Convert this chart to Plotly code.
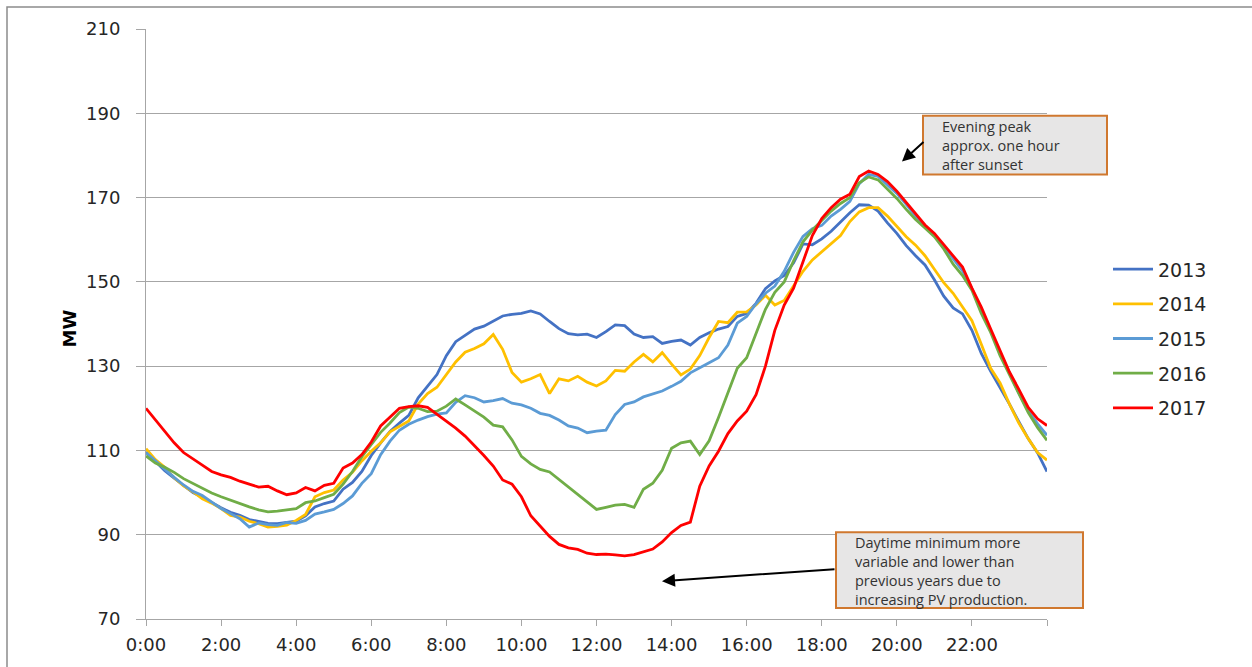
import plotly.graph_objects as go

# Time of day in hours, 15-minute steps from 0:00 to 24:00
hours = [i * 0.25 for i in range(97)]

load_2013 = [
    109.6, 107.4, 105.2, 103.4, 101.6, 100.0, 98.9, 97.6, 96.4, 95.3, 94.6, 93.6,
    93.1, 92.7, 92.6, 92.9, 93.2, 94.5, 96.6, 97.4, 98.0, 100.8, 102.4, 105.0,
    108.8, 111.8, 114.5, 116.5, 118.3, 122.5, 125.2, 128.0, 132.5, 135.8, 137.3, 138.8,
    139.5, 140.8, 141.9, 142.3, 142.5, 143.1, 142.4, 140.6, 138.9, 137.7, 137.4, 137.6,
    136.8, 138.2, 139.8, 139.6, 137.6, 136.8, 137.0, 135.4, 135.9, 136.2, 135.0, 136.8,
    137.9, 138.8, 139.4, 141.8, 142.5, 144.9, 148.4, 150.2, 151.5, 154.5, 159.0, 158.8,
    160.2, 162.0, 164.2, 166.4, 168.3, 168.2, 166.8, 164.0, 161.5, 158.6, 156.2, 154.0,
    150.5, 146.6, 143.8, 142.4, 138.5, 133.0, 128.8, 125.0, 121.0, 116.8, 112.8, 109.4,
    105.0,
]

load_2014 = [
    110.4, 107.8, 106.0, 103.5, 101.6, 100.2, 98.5, 97.5, 96.2, 94.6, 94.2, 93.2,
    92.6, 91.8, 92.0, 92.3, 93.4, 94.8, 99.0, 100.0, 100.6, 103.0, 104.8, 107.5,
    109.8, 111.8, 114.4, 115.8, 117.0, 121.0, 123.5, 125.0, 128.0, 131.0, 133.3, 134.2,
    135.3, 137.5, 134.0, 128.5, 126.2, 127.0, 128.0, 123.5, 127.0, 126.5, 127.6, 126.2,
    125.3, 126.5, 129.0, 128.8, 131.0, 132.8, 131.0, 133.2, 130.5, 127.9, 129.3, 132.5,
    136.8, 140.6, 140.3, 142.8, 142.9, 144.5, 146.8, 144.5, 145.6, 149.0, 152.5, 155.2,
    157.2, 159.0, 161.0, 164.3, 166.6, 167.6, 167.6, 165.6, 163.2, 160.7, 158.7, 156.2,
    153.0, 149.8, 147.3, 144.0, 140.8, 135.2, 129.5, 126.0, 121.0, 116.5, 112.8, 109.5,
    107.7,
]

load_2015 = [
    109.5, 107.5, 105.5, 103.6, 101.8, 100.3, 99.3, 97.8, 96.2, 95.0, 93.8, 91.8,
    92.8, 92.4, 92.2, 92.9, 92.7, 93.4, 94.9, 95.4, 96.0, 97.4, 99.2, 102.2,
    104.5, 109.0, 112.2, 114.8, 116.2, 117.2, 118.0, 118.6, 118.9, 121.4, 123.0, 122.5,
    121.5, 121.8, 122.3, 121.2, 120.8, 120.0, 118.8, 118.3, 117.2, 115.8, 115.3, 114.2,
    114.6, 114.8, 118.5, 120.9, 121.5, 122.7, 123.4, 124.1, 125.2, 126.4, 128.4, 129.7,
    130.8, 132.0, 135.0, 140.2, 141.8, 144.8, 147.3, 149.0, 152.5, 157.0, 160.8, 162.6,
    163.4, 165.6, 167.2, 169.1, 173.3, 175.5, 175.0, 173.0, 171.0, 168.4, 165.6, 163.2,
    161.2, 158.4, 155.4, 152.6, 148.4, 143.6, 138.4, 133.2, 128.3, 123.6, 119.4, 116.3,
    113.6,
]

load_2016 = [
    108.7, 107.0, 106.0, 104.8, 103.3, 102.2, 101.0, 99.9, 99.0, 98.2, 97.3, 96.6,
    95.9, 95.4, 95.6, 95.9, 96.2, 97.6, 98.0, 98.8, 99.6, 102.0, 105.0, 108.5,
    111.5, 114.3, 116.5, 119.0, 120.3, 120.0, 119.2, 119.3, 120.5, 122.2, 120.8, 119.3,
    117.9, 116.0, 115.6, 112.5, 108.6, 106.8, 105.5, 104.9, 103.1, 101.4, 99.4, 97.8,
    96.0, 96.5, 97.0, 97.2, 96.5, 100.8, 102.2, 105.3, 110.5, 111.8, 112.2, 109.0,
    112.3, 117.8, 123.5, 129.5, 132.0, 138.0, 143.5, 147.5, 150.0, 155.0, 159.5, 162.3,
    164.5, 166.8, 168.6, 170.0, 173.5, 174.9, 174.2, 172.0, 169.8, 167.2, 164.8, 162.8,
    160.7, 157.8, 154.2, 151.5, 148.0, 142.5, 138.0, 132.5, 127.8, 123.5, 119.0, 115.4,
    112.4,
]

load_2017 = [
    120.0, 117.2, 114.5, 111.8, 109.5, 107.9, 106.5, 105.0, 104.2, 103.6, 102.7, 102.0,
    101.3, 101.5, 100.4, 99.5, 99.9, 101.2, 100.4, 101.7, 102.2, 105.8, 107.0, 109.0,
    112.0, 115.8, 118.0, 120.0, 120.4, 120.6, 120.2, 118.6, 116.8, 115.3, 113.4, 111.2,
    108.8, 106.3, 103.0, 102.0, 99.0, 94.5, 92.0, 89.6, 87.7, 86.9, 86.5, 85.6,
    85.3, 85.4, 85.2, 85.0, 85.3, 85.9, 86.6, 88.3, 90.5, 92.2, 93.0, 101.5,
    106.3, 109.8, 114.0, 117.0, 119.3, 123.2, 130.0, 138.5, 144.5, 148.5, 155.0, 161.0,
    165.0, 167.6, 169.6, 170.8, 175.0, 176.3, 175.5, 173.8, 171.5, 168.8, 166.0, 163.5,
    161.5, 158.8, 156.2, 153.5, 148.5, 144.0, 138.8, 133.7, 128.6, 124.5, 120.2, 117.5,
    115.9,
]

years = ["2013", "2014", "2015", "2016", "2017"]
series = [load_2013, load_2014, load_2015, load_2016, load_2017]
colors = ["#4472C4", "#FFC000", "#5B9BD5", "#70AD47", "#FF0000"]

x_tick_vals = list(range(0, 25, 2))
x_tick_text = [f"{h}:00" for h in range(0, 24, 2)] + [""]
y_tick_vals = list(range(70, 211, 20))

# Plot-area geometry in page pixels, used to place decorations
PLOT_L, PLOT_R, PLOT_T, PLOT_B = 146, 1047, 29, 621
W, H = 1252, 667


def px_x(px):
    return (px - PLOT_L) / (PLOT_R - PLOT_L)


def px_y(py):
    return (PLOT_B - py) / (PLOT_B - PLOT_T)


fig = go.Figure()
for name, vals, col in zip(years, series, colors):
    fig.add_trace(go.Scatter(
        x=hours, y=vals, mode="lines", name=name,
        line=dict(color=col, width=2.8),
        legendgroup=name,
    ))

grid = "#a6a6a6"
tick_font = dict(family="DejaVu Sans", size=18, color="#262626")

fig.update_layout(
    width=W, height=H,
    margin=dict(l=PLOT_L, r=W - PLOT_R, t=PLOT_T, b=H - PLOT_B),
    paper_bgcolor="white",
    plot_bgcolor="white",
    showlegend=True,
    legend=dict(
        x=px_x(1108), y=px_y(251), xref="paper", yref="paper",
        xanchor="left", yanchor="top",
        font=dict(family="DejaVu Sans", size=19, color="#262626"),
        tracegroupgap=7,
        itemwidth=40,
        bgcolor="rgba(0,0,0,0)",
    ),
    xaxis=dict(
        range=[0, 24],
        tickmode="array", tickvals=x_tick_vals, ticktext=x_tick_text,
        ticks="outside", ticklen=6, tickcolor=grid, tickwidth=1,
        showline=True, linecolor=grid, linewidth=1,
        showgrid=False, zeroline=False,
        tickfont=tick_font,
        ticklabelstandoff=3,
    ),
    yaxis=dict(
        range=[70, 210],
        tickmode="array", tickvals=y_tick_vals,
        ticks="outside", ticklen=9, tickcolor=grid, tickwidth=1,
        showline=True, linecolor=grid, linewidth=1,
        showgrid=True, gridcolor=grid, gridwidth=1,
        zeroline=False,
        tickfont=tick_font,
        ticklabelstandoff=12,
    ),
)

# Outer chart frame (top and left edges visible)
fig.add_shape(type="rect", xref="paper", yref="paper",
              x0=px_x(7), x1=px_x(W + 20), y0=px_y(H + 20), y1=px_y(7),
              line=dict(color="#8c8c8c", width=1.5), fillcolor="rgba(0,0,0,0)",
              layer="below")

# Y-axis title
fig.add_annotation(text="<b>MW</b>", xref="paper", yref="paper",
                   x=px_x(57), y=px_y(330), showarrow=False, textangle=-90,
                   font=dict(family="DejaVu Sans", size=18, color="#000000"))

# Callout boxes
box_style = dict(line=dict(color="#D0782F", width=2), fillcolor="#E7E6E6")
fig.add_shape(type="rect", xref="paper", yref="paper",
              x0=px_x(923), x1=px_x(1107), y0=px_y(175), y1=px_y(116), **box_style)
fig.add_shape(type="rect", xref="paper", yref="paper",
              x0=px_x(836), x1=px_x(1083), y0=px_y(610), y1=px_y(534), **box_style)

note_font = dict(family="Open Sans", size=14.5, color="#333333")
fig.add_annotation(text="Evening peak<br>approx. one hour<br>after sunset",
                   xref="paper", yref="paper", x=px_x(940), y=px_y(146),
                   xanchor="left", yanchor="middle", align="left",
                   showarrow=False, font=note_font)
fig.add_annotation(text="Daytime minimum more<br>variable and lower than<br>"
                        "previous years due to<br>increasing PV production.",
                   xref="paper", yref="paper", x=px_x(853), y=px_y(573),
                   xanchor="left", yanchor="middle", align="left",
                   showarrow=False, font=note_font)

# Arrows from the callouts
fig.add_annotation(text="", xref="paper", yref="paper",
                   x=px_x(902), y=px_y(162), axref="pixel", ayref="pixel",
                   ax=925 - 902, ay=141 - 162,
                   showarrow=True, arrowhead=2, arrowsize=1.3, arrowwidth=2,
                   arrowcolor="#000000")
fig.add_annotation(text="", xref="paper", yref="paper",
                   x=px_x(662), y=px_y(583), axref="pixel", ayref="pixel",
                   ax=836 - 662, ay=571 - 583,
                   showarrow=True, arrowhead=2, arrowsize=1.3, arrowwidth=2,
                   arrowcolor="#000000")

fig.write_html("out.html")
